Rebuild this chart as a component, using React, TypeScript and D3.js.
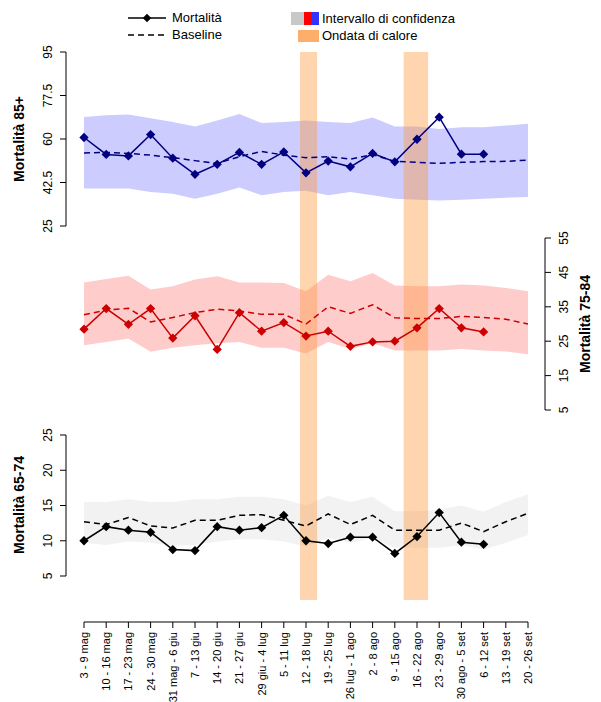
import React from 'react';
import * as d3 from 'd3';

const weeks = ['3 - 9 mag', '10 - 16 mag', '17 - 23 mag', '24 - 30 mag', '31 mag - 6 giu', '7 - 13 giu', '14 - 20 giu', '21 - 27 giu', '29 giu - 4 lug', '5 - 11 lug', '12 - 18 lug', '19 - 25 lug', '26 lug - 1 ago', '2 - 8 ago', '9 - 15 ago', '16 - 22 ago', '23 - 29 ago', '30 ago - 5 set', '6 - 12 set', '13 - 19 set', '20 - 26 set'];

// 85+
const obs85 = [60.6, 53.8, 53.2, 61.8, 52.3, 45.8, 49.8, 54.6, 49.8, 54.8, 46.4, 51.1, 48.8, 54.2, 50.8, 59.9, 68.8, 53.9, 53.9];
const base85 = [54.4, 54.6, 54.2, 53.5, 52.5, 51.3, 50.2, 52.9, 55, 53.5, 52.5, 52.9, 51.9, 53.7, 51, 50.6, 50.2, 50.6, 50.9, 51, 51.5];
const hi85 = [68.9, 69.6, 69.9, 68.3, 66.8, 65, 67.4, 70.1, 66.4, 66.8, 67.4, 66.8, 66.4, 68.6, 65, 65, 64, 64.7, 64.7, 65.4, 66.1];
const lo85 = [40.1, 40.1, 40.1, 38.7, 38, 36, 38, 40.5, 37.4, 38.7, 39.2, 37.4, 38.7, 37.4, 36, 35.6, 35.3, 35.6, 36, 36.4, 36.7];

// 75-84
const obs75 = [28.5, 34.5, 29.9, 34.5, 25.9, 32.4, 22.6, 33.3, 27.9, 30.4, 26.5, 27.9, 23.5, 24.8, 25, 28.9, 34.5, 28.9, 27.7];
const base75 = [32.7, 34, 34.6, 30.6, 31.9, 33.3, 34.3, 33.8, 32.8, 32.8, 30, 35, 33.1, 35.6, 31.8, 31.6, 31.6, 32.2, 31.9, 31.4, 30];
const hi75 = [42.1, 43.1, 44, 40, 41, 42.9, 43.9, 42.1, 42.1, 41.9, 39.5, 44.3, 42.4, 44.8, 41.2, 41, 41, 41.5, 41.2, 40.5, 39.5];
const lo75 = [23.8, 24.8, 25.8, 21.9, 23.1, 23.8, 24.4, 24.8, 23.1, 23.1, 21.4, 24.8, 22.7, 24.4, 22.3, 22.3, 22.3, 22.7, 22.3, 22, 21.2];

// 65-74
const obs65 = [10, 12, 11.5, 11.2, 8.75, 8.6, 12, 11.5, 11.85, 13.6, 10, 9.6, 10.5, 10.5, 8.2, 10.6, 14, 9.8, 9.5];
const base65 = [12.7, 12.3, 13.3, 12.1, 11.8, 12.9, 12.9, 13.6, 13.7, 12.9, 12.1, 13.8, 12.3, 13.6, 11.5, 11.5, 11.5, 12.5, 11.3, 12.7, 13.9];
const hi65 = [15.5, 15.5, 15.9, 15.5, 15.5, 15.9, 15.9, 16.25, 16.25, 15.9, 15, 16.4, 15.5, 16.25, 14.2, 14.2, 14.4, 15, 14.1, 15.5, 16.6];
const lo65 = [9.7, 9.4, 9.9, 9.7, 9.3, 9.4, 9.9, 10.2, 10.2, 9.9, 9.2, 10.4, 9.7, 10.4, 9, 9, 9, 9.4, 8.75, 9.7, 10.8];

const heatWaves = [[9.73, 10.5], [14.4, 15.5]];

const ticks85 = [25, 42.5, 60, 77.5, 95];
const ticks75 = [5, 15, 25, 35, 45, 55];
const ticks65 = [5, 10, 15, 20, 25];

const x = d3.scaleLinear().domain([0, 20]).range([84, 528]);
const y85 = d3.scaleLinear().domain([25, 95]).range([226, 52]);
const y75 = d3.scaleLinear().domain([5, 55]).range([410, 238]);
const y65 = d3.scaleLinear().domain([5, 25]).range([576, 435]);

const font = 'Liberation Sans, Arial, sans-serif';

function Series({ y, obs, base, hi, lo, color }: any) {
  const area = d3.area<number>().x((_, i) => x(i)).y0((_, i) => y(lo[i])).y1(d => y(d));
  const line = d3.line<number>().x((_, i) => x(i)).y(d => y(d));
  return (
    <g>
      <path d={line(base) || ''} fill="none" stroke={color} strokeWidth={1.5} strokeDasharray="6,4" />
      <path d={line(obs) || ''} fill="none" stroke={color} strokeWidth={1.5} />
      {obs.map((v: number, i: number) => (
        <path key={i} d={d3.symbol(d3.symbolDiamond2, 55)() || ''} transform={`translate(${x(i)},${y(v)})`} fill={color} />
      ))}
    </g>
  );
}

function Band({ y, hi, lo, fill }: any) {
  const area = d3.area<number>().x((_, i) => x(i)).y0((_, i) => y(lo[i])).y1(d => y(d));
  return <path d={area(hi) || ''} fill={fill} />;
}

function YAxis({ y, ticks, xPos, side }: any) {
  const d = side === 'left' ? -1 : 1;
  const [a, b] = y.range();
  return (
    <g fontFamily={font} fontSize={12} fill="#000">
      <line x1={xPos} x2={xPos} y1={a} y2={b} stroke="#000" />
      {ticks.map((t: number) => (
        <g key={t} transform={`translate(${xPos},${y(t)})`}>
          <line x2={d * 6} stroke="#000" />
          <text transform={`translate(${d * 14},0) rotate(-90)`} textAnchor="middle" dy={side === 'left' ? 0 : 9}>{t}</text>
        </g>
      ))}
    </g>
  );
}

export default function App() {
  return (
    <svg width={601} height={702} style={{ display: 'block', position: 'absolute', left: 0, top: 0 }}>
      <rect width={601} height={702} fill="#fff" />
      <Band y={y85} hi={hi85} lo={lo85} fill="#ccccff" />
      <Band y={y75} hi={hi75} lo={lo75} fill="#ffcccc" />
      <Band y={y65} hi={hi65} lo={lo65} fill="#f2f2f2" />
      {heatWaves.map(([a, b], i) => (
        <rect key={i} x={x(a)} width={x(b) - x(a)} y={52} height={548} fill="#fd9a40" opacity={0.42} />
      ))}
      <Series y={y85} obs={obs85} base={base85} color="#000080" />
      <Series y={y75} obs={obs75} base={base75} color="#cc0000" />
      <Series y={y65} obs={obs65} base={base65} color="#000000" />

      <YAxis y={y85} ticks={ticks85} xPos={66} side="left" />
      <YAxis y={y65} ticks={ticks65} xPos={66} side="left" />
      <YAxis y={y75} ticks={ticks75} xPos={545} side="right" />

      <g fontFamily={font} fontSize={14} fontWeight="bold">
        <text transform="translate(24,139) rotate(-90)" textAnchor="middle">Mortalità 85+</text>
        <text transform="translate(24,505) rotate(-90)" textAnchor="middle">Mortalità 65-74</text>
        <text transform="translate(590,324) rotate(-90)" textAnchor="middle">Mortalità 75-84</text>
      </g>

      {/* x axis */}
      <g fontFamily={font} fontSize={11}>
        <line x1={x(0)} x2={x(20)} y1={622} y2={622} stroke="#000" />
        {weeks.map((w, i) => (
          <g key={i} transform={`translate(${x(i)},622)`}>
            <line y2={6} stroke="#000" />
            <text transform="translate(4,10) rotate(-90)" textAnchor="end">{w}</text>
          </g>
        ))}
      </g>

      {/* legend */}
      <g fontFamily={font} fontSize={13}>
        <line x1={128} x2={166} y1={18} y2={18} stroke="#000" strokeWidth={1.5} />
        <path d={d3.symbol(d3.symbolDiamond2, 45)() || ''} transform="translate(147,18)" fill="#000" />
        <text x={172} y={22}>Mortalità</text>
        <line x1={128} x2={166} y1={35} y2={35} stroke="#000" strokeWidth={1.5} strokeDasharray="6,4" />
        <text x={172} y={39}>Baseline</text>
        <rect x={291} y={12} width={13} height={13} fill="#c8c8c8" />
        <rect x={304} y={12} width={7} height={13} fill="#ff0000" />
        <rect x={311} y={12} width={8} height={13} fill="#3333ff" />
        <text x={322} y={23}>Intervallo di confidenza</text>
        <rect x={298} y={30} width={21} height={12} fill="#fdae6b" />
        <text x={322} y={40}>Ondata di calore</text>
      </g>
    </svg>
  );
}
